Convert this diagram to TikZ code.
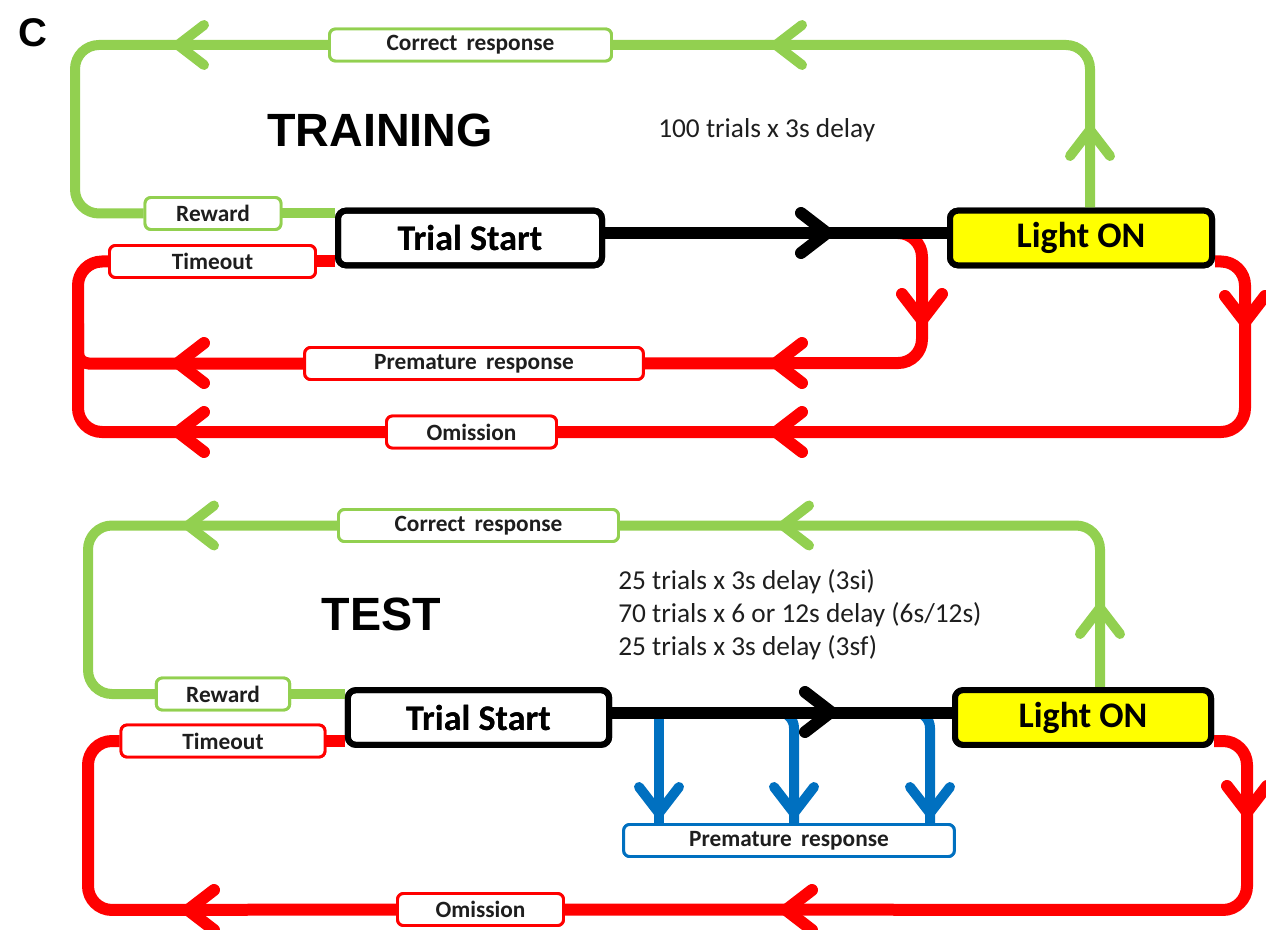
\documentclass[tikz,border=0pt]{standalone}
\usepackage{fontspec}
\newfontfamily\carlito{Carlito}
\newfontfamily\arialf{Liberation Sans}
\usetikzlibrary{calc}
\definecolor{lgreen}{HTML}{92D050}
\definecolor{lred}{HTML}{FF0000}
\definecolor{lblue}{HTML}{0070C0}
\definecolor{lyellow}{HTML}{FFFF00}
\definecolor{txt}{HTML}{1E1E1E}
\tikzset{
  lbl/.style={draw, line width=2.2pt, rounded corners=4.5pt, fill=white, inner sep=0pt,
    minimum height=24pt, text=txt, font=\carlito\bfseries\fontsize{17.5}{20}\selectfont},
  mainbox/.style={draw=black, line width=4.5pt, rounded corners=6pt, inner sep=0pt,
    minimum height=41pt, text=black, font=\carlito\bfseries\fontsize{27}{30}\selectfont},
  gline/.style={draw=lgreen, line width=7.5pt, rounded corners=18pt},
  rline/.style={draw=lred, line width=9pt, rounded corners=18pt},
  bline/.style={draw=lblue, line width=7.5pt, rounded corners=12pt},
  kline/.style={draw=black, line width=9pt},
  chev/.pic={\draw[line cap=round, line join=round] (-26,-20) -- (0,0) -- (-26,20);},
  bigtitle/.style={font=\arialf\bfseries\fontsize{35}{40}\selectfont, text=black, inner sep=0pt},
  info/.style={font=\carlito\fontsize{20.5}{24.6}\selectfont, text=txt, inner sep=0pt, align=left, anchor=west}
}
\begin{document}
\begin{tikzpicture}[x=0.75pt,y=-0.75pt]
\useasboundingbox (0,0) rectangle (1266,930);

\node[font=\arialf\bfseries\fontsize{30}{34}\selectfont, inner sep=0pt] (lab) at (33,33) {C};

% ================= TRAINING =================
\node[mainbox] (ts1) at (470,238) [minimum width=198pt] {Trial Start};
\node[mainbox, fill=lyellow] (lo1) at (1081,238) [minimum width=196.5pt] {Light ON};
\node[lbl, draw=lgreen, minimum width=211.5pt] (cr1) at (470.5,45) {Correct\, response};
\node[lbl, draw=lgreen, minimum width=102pt] (rw1) at (213,213.5) {Reward};
\node[lbl, draw=lred, minimum width=154.5pt] (to1) at (212.5,261.5) {Timeout};
\node[lbl, draw=lred, minimum width=254pt] (pr1) at (474,363.5) {Premature\, response};
\node[lbl, draw=lred, minimum width=127.5pt] (om1) at (471.5,432) {Omission};
\node[bigtitle] (tr) at (380,130) {TRAINING};
\node[info] (d1) at (658,130) {100 trials x 3s delay};

\coordinate (g1a) at (75,45);
\coordinate (g1b) at (1090,45);
\coordinate (r1a) at (78,432);
\coordinate (r1b) at (1245,432);
\coordinate (p1s) at (898,233);
\coordinate (p1a) at (922,363);

\begin{scope}[on background layer/.style={}]
% green loop
\draw[gline] (ts1.west |- rw1) -- (rw1.east);
\draw[gline] (rw1.west) -- (g1a |- rw1) -- (g1a) -- (cr1.west);
\draw[gline] (cr1.east) -- (g1b) -- (g1b |- lo1.north);
% red loops
\draw[rline] (ts1.west |- to1) -- (to1.east);
\draw[rline] (to1.west) -- (r1a |- to1) -- (r1a) -- (om1.west);
\draw[rline] (om1.east) -- (r1b) -- (r1b |- to1) -- (lo1.east |- to1);
\draw[rline] (p1s) -- (p1a |- p1s) -- (p1a) -- (pr1.east);
\draw[rline, rounded corners=8pt] (pr1.west) -- (r1a |- pr1) -- ++(0,-40);
\end{scope}
\draw[kline] ([yshift=3.75pt]ts1.east) -- ([yshift=3.75pt]lo1.west);

% redraw boxes on top
\node[mainbox] at (ts1) [minimum width=198pt] {Trial Start};
\node[mainbox, fill=lyellow] at (lo1) [minimum width=196.5pt] {Light ON};
\node[lbl, draw=lgreen, minimum width=211.5pt] at (cr1) {Correct\, response};
\node[lbl, draw=lgreen, minimum width=102pt] at (rw1) {Reward};
\node[lbl, draw=lred, minimum width=154.5pt] at (to1) {Timeout};
\node[lbl, draw=lred, minimum width=254pt] at (pr1) {Premature\, response};
\node[lbl, draw=lred, minimum width=127.5pt] at (om1) {Omission};

% chevrons
\pic[lgreen, line width=7.5pt, rotate=180] at (178,45) {chev};
\pic[lgreen, line width=7.5pt, rotate=180] at (776,45) {chev};
\pic[lgreen, line width=7.5pt, rotate=90] at (1090,130) {chev};
\pic[black, line width=9pt] at (827,233) {chev};
\pic[lred, line width=9pt, rotate=-90] at (922,320) {chev};
\pic[lred, line width=9pt, rotate=180] at (178,363) {chev};
\pic[lred, line width=9pt, rotate=180] at (776,363) {chev};
\pic[lred, line width=9pt, rotate=-90] at (1245,322) {chev};
\pic[lred, line width=9pt, rotate=180] at (178,432) {chev};
\pic[lred, line width=9pt, rotate=180] at (776,432) {chev};

% ================= TEST =================
\coordinate (g2a) at (88,525.5);
\coordinate (g2b) at (1100,525.5);
\coordinate (r2a) at (88,910);
\coordinate (r2b) at (1247,910);
\coordinate (bs1) at (659,712);
\coordinate (bs2) at (772,712);
\coordinate (bv2) at (794,712);
\coordinate (bs3) at (906,712);
\coordinate (bv3) at (930,712);

\node[mainbox] (ts2) at (478.5,717.5) [minimum width=196pt] {Trial Start};
\node[mainbox, fill=lyellow] (lo2) at (1083,717.5) [minimum width=192pt] {Light ON};
\node[lbl, draw=lgreen, minimum width=210pt] (cr2) at (478.5,525.5) {Correct\, response};
\node[lbl, draw=lgreen, minimum width=100pt] (rw2) at (223,694) {Reward};
\node[lbl, draw=lred, minimum width=153pt] (to2) at (223,741) {Timeout};
\node[lbl, draw=lblue, minimum width=248pt] (pr2) at (789,840.5) {Premature\, response};
\node[lbl, draw=lred, minimum width=124.5pt] (om2) at (480.5,909.5) {Omission};
\node[bigtitle] (te) at (381.5,614.5) {TEST};
\node[info] (d2) at (618,614.5) {25 trials x 3s delay (3si)\\70 trials x 6 or 12s delay (6s/12s)\\25 trials x 3s delay (3sf)};

\draw[gline] (ts2.west |- rw2) -- (rw2.east);
\draw[gline] (rw2.west) -- (g2a |- rw2) -- (g2a) -- (cr2.west);
\draw[gline] (cr2.east) -- (g2b) -- (g2b |- lo2.north);
\draw[rline] (ts2.west |- to2) -- (to2.east);
\draw[rline] (to2.west) -- (r2a |- to2) -- (r2a) -- (om2.west);
\draw[rline] (om2.east) -- (r2b) -- (r2b |- to2) -- (lo2.east |- to2);
\draw[bline] (bs1) -- (bs1 |- pr2.north);
\draw[bline] (bs2) -- (bv2) -- (bv2 |- pr2.north);
\draw[bline] (bs3) -- (bv3) -- (bv3 |- pr2.north);
\draw[kline] ([yshift=3.75pt]ts2.east) -- ([yshift=3.75pt]lo2.west);

\node[mainbox] at (ts2) [minimum width=196pt] {Trial Start};
\node[mainbox, fill=lyellow] at (lo2) [minimum width=192pt] {Light ON};
\node[lbl, draw=lgreen, minimum width=210pt] at (cr2) {Correct\, response};
\node[lbl, draw=lgreen, minimum width=100pt] at (rw2) {Reward};
\node[lbl, draw=lred, minimum width=153pt] at (to2) {Timeout};
\node[lbl, draw=lblue, minimum width=248pt] at (pr2) {Premature\, response};
\node[lbl, draw=lred, minimum width=124.5pt] at (om2) {Omission};

\pic[lgreen, line width=7.5pt, rotate=180] at (188,525.5) {chev};
\pic[lgreen, line width=7.5pt, rotate=180] at (783,525.5) {chev};
\pic[lgreen, line width=7.5pt, rotate=90] at (1100,608) {chev};
\pic[black, line width=9pt] at (831,712) {chev};
\pic[lblue, line width=7.5pt, rotate=-90] at (659,813) {chev};
\pic[lblue, line width=7.5pt, rotate=-90] at (794,813) {chev};
\pic[lblue, line width=7.5pt, rotate=-90] at (930,813) {chev};
\pic[lred, line width=9pt, rotate=-90] at (1247,812) {chev};
\pic[lred, line width=9pt, rotate=180] at (188,910) {chev};
\pic[lred, line width=9pt, rotate=180] at (786,910) {chev};
\end{tikzpicture}
\end{document}
